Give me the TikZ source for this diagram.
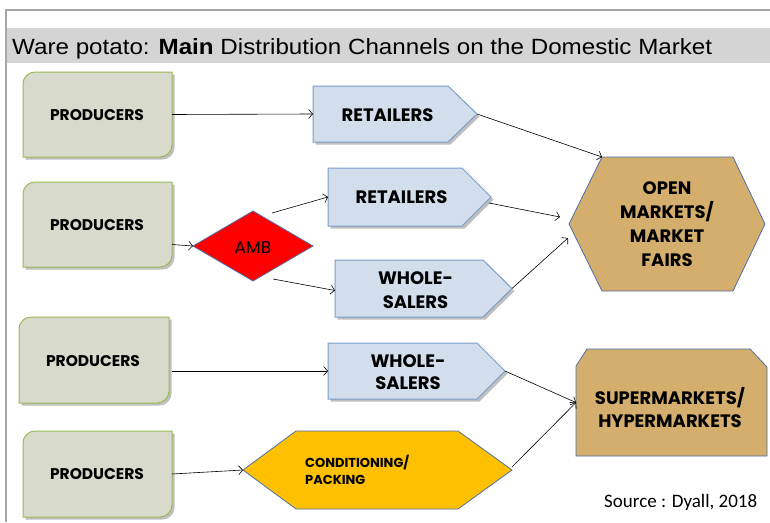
\documentclass[tikz,border=0pt]{standalone}
\usepackage{fontspec}
\usepackage{graphicx}
\usetikzlibrary{arrows.meta,shadows,calc}
\setmainfont{Liberation Sans}
\newfontfamily\boxfont{Poppins}
\newfontfamily\srcfont{Carlito}
\definecolor{framec}{HTML}{A6A6A6}
\definecolor{bandc}{HTML}{D4D4D4}
\definecolor{prodfill}{HTML}{D8DACB}
\definecolor{prodline}{HTML}{9BBB59}
\definecolor{sigfill}{HTML}{D3DEEC}
\definecolor{sigline}{HTML}{7A9CCB}
\definecolor{hexfill}{HTML}{D3AE6C}
\definecolor{hexline}{HTML}{4F6FA8}
\definecolor{condfill}{HTML}{FFC000}
\definecolor{ambfill}{HTML}{FF0000}
\tikzset{
  frame/.style={inner sep=0pt, outer sep=0pt, draw=none},
  shadowed/.style={drop shadow={shadow xshift=2.5pt, shadow yshift=-2.5pt, fill=black, opacity=0.25}},
  prodbox/.style={fill=prodfill, draw=prodline, line width=1pt, shadowed},
  sigbox/.style={fill=sigfill, draw=sigline, line width=1pt, shadowed},
  hexbox/.style={fill=hexfill, draw=hexline, line width=0.8pt},
  condbox/.style={fill=condfill, draw=hexline, line width=0.8pt},
  ambbox/.style={fill=ambfill, draw=hexline, line width=0.8pt},
  boxtext/.style={font=\boxfont\bfseries\fontsize{15.5}{18}\selectfont, align=center, inner sep=0pt},
  bigtext/.style={font=\boxfont\bfseries\fontsize{18}{24}\selectfont, align=center, inner sep=0pt},
  arr/.style={-{Straight Barb[length=4pt,width=9pt]}, line width=0.6pt, black},
}
\newcommand\prodshape[1]{%
  \path[prodbox] (#1.south west) -- ($(#1.north west)+(0pt,-12pt)$)
    arc[start angle=180,end angle=90,radius=12pt] -- (#1.north east)
    -- ($(#1.south east)+(0pt,12pt)$)
    arc[start angle=0,end angle=-90,radius=12pt] -- cycle;}
\newcommand\sigshape[2]{%
  \path[sigbox] (#1.north west) -- ($(#1.north east)+(-#2,0pt)$) -- (#1.east)
    -- ($(#1.south east)+(-#2,0pt)$) -- (#1.south west) -- cycle;}
\begin{document}
\begin{tikzpicture}[x=1pt,y=-1pt]
\useasboundingbox (0,0) rectangle (770,522);
\fill[white] (0,0) rectangle (770,522);
% frame and title band
\draw[framec, line width=1.5pt] (770,10) -- (6,10) -- (6,522);
\fill[bandc] (7,28) rectangle (770,63);
\node[anchor=base west, inner sep=0pt] (title) at (12,54)
  {\resizebox{700pt}{\height}{\fontsize{22}{25}\selectfont Ware potato: \textbf{Main} Distribution Channels on the Domestic Market}};
% producers
\node[frame, minimum width=149pt, minimum height=85pt] (p1) at (97.5,114.5) {};
\node[frame, minimum width=149pt, minimum height=85pt] (p2) at (97.5,224.5) {};
\node[frame, minimum width=150pt, minimum height=86pt] (p3) at (94,360) {};
\node[frame, minimum width=149pt, minimum height=86pt] (p4) at (97.5,474) {};
\prodshape{p1}\prodshape{p2}\prodshape{p3}\prodshape{p4}
\node[boxtext] (p1t) at (97,115) {PRODUCERS};
\node[boxtext] (p2t) at (97,225) {PRODUCERS};
\node[boxtext] (p3t) at (93,361) {PRODUCERS};
\node[boxtext] (p4t) at (97,474) {PRODUCERS};
% signal boxes
\node[frame, minimum width=164pt, minimum height=56pt] (r1) at (395,114) {};
\node[frame, minimum width=163pt, minimum height=58pt] (r2) at (409.5,197) {};
\node[frame, minimum width=177pt, minimum height=57pt] (w1) at (423.5,288.5) {};
\node[frame, minimum width=177pt, minimum height=56pt] (w2) at (416.5,371) {};
\sigshape{r1}{29pt}\sigshape{r2}{29pt}\sigshape{w1}{29pt}\sigshape{w2}{28pt}
\node[bigtext] (r1t) at (387.5,115) {RETAILERS};
\node[bigtext] (r2t) at (401.5,197) {RETAILERS};
\node[bigtext] (w1t) at (415.5,290) {WHOLE-\\SALERS};
\node[bigtext, font=\boxfont\bfseries\fontsize{18}{22.5}\selectfont] (w2t) at (408,372) {WHOLE-\\SALERS};
% AMB
\node[frame, minimum width=120pt, minimum height=70pt] (amb) at (253,246) {};
\path[ambbox] (amb.west) -- (amb.north) -- (amb.east) -- (amb.south) -- cycle;
\node[inner sep=0pt, font=\boxfont\fontsize{17}{19}\selectfont] (ambt) at (253,248) {AMB};
% open markets hexagon
\node[frame, minimum width=196pt, minimum height=134pt] (hex) at (667,224) {};
\path[hexbox] (hex.west) -- ($(hex.north west)+(33pt,0pt)$) -- ($(hex.north east)+(-32pt,0pt)$)
  -- (hex.east) -- ($(hex.south east)+(-32pt,0pt)$) -- ($(hex.south west)+(33pt,0pt)$) -- cycle;
\node[bigtext] (hext) at (667,224) {OPEN\\MARKETS/\\MARKET\\FAIRS};
% supermarkets
\node[frame, minimum width=191pt, minimum height=107pt] (sup) at (671.5,402.5) {};
\path[hexbox] (sup.south west) -- ($(sup.north west)+(0pt,-17pt)$) -- ($(sup.north west)+(11pt,0pt)$)
  -- ($(sup.north east)+(-17pt,0pt)$) -- ($(sup.north east)+(0pt,-18pt)$) -- (sup.south east) -- cycle;
\node[bigtext, font=\boxfont\bfseries\fontsize{18}{23}\selectfont] (supt) at (670,408) {SUPERMARKETS/\\HYPERMARKETS};
% conditioning
\node[frame, minimum width=269pt, minimum height=78pt] (cond) at (377.5,470) {};
\path[condbox] (cond.west) -- ($(cond.north west)+(53pt,0pt)$) -- ($(cond.north east)+(-54pt,0pt)$)
  -- (cond.east) -- ($(cond.south east)+(-54pt,0pt)$) -- ($(cond.south west)+(53pt,0pt)$) -- cycle;
\node[anchor=west, align=left, inner sep=0pt, font=\boxfont\bfseries\fontsize{13}{17}\selectfont] (condt) at (305,470) {CONDITIONING/\\PACKING};
% source
\node[anchor=base west, inner sep=0pt, font=\srcfont\fontsize{19}{22}\selectfont] (src) at (604,507) {Source : Dyall, 2018};
% connectors
\draw[arr] (p1.east) -- (r1.west);
\draw[arr] ($(p2.east)+(0,20)$) -- (amb.west);
\draw[arr] ($(amb.north)+(19,2)$) -- (r2.west);
\draw[arr] ($(amb.south)+(20,-2)$) -- ($(w1.west)+(0,2)$);
\draw[arr] (r1.east) -- ($(hex.north west)+(33,0)$);
\draw[arr] ($(r2.east)+(-2,6)$) -- ($(hex.west)+(-9,-7)$);
\draw[arr] (w1.east) -- ($(hex.west)+(-1,14)$);
\draw[arr] ($(p3.east)+(3,11)$) -- (w2.west);
\draw[arr] (p4.east) -- (cond.west);
\draw[arr] (w2.east) -- (sup.west);
\draw[arr] ($(cond.east)+(0,-3)$) -- (sup.west);
\end{tikzpicture}
\end{document}
